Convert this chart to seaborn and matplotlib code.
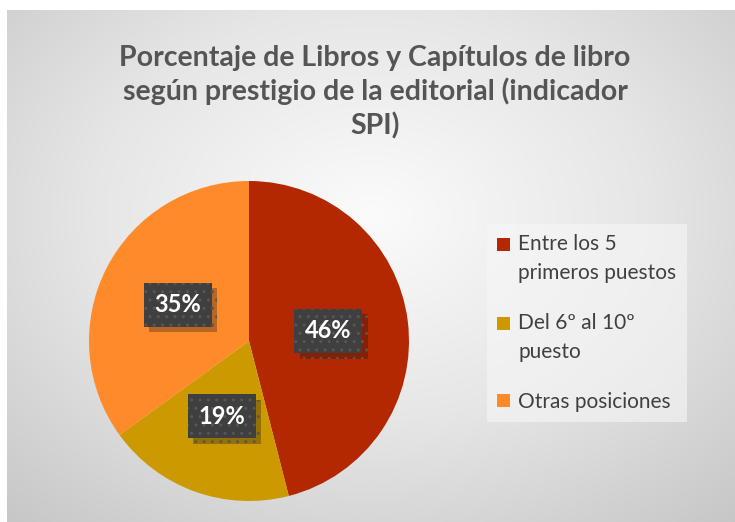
import numpy as np
import matplotlib
matplotlib.use("Agg")
import matplotlib.pyplot as plt
import matplotlib.patheffects as pe
from matplotlib.patches import Rectangle
from matplotlib.legend_handler import HandlerPatch
import seaborn as sns

# data
categorias = ["Entre los 5\nprimeros puestos", "Del 6º al 10º\npuesto", "Otras posiciones"]
porcentajes = [46, 19, 35]
colores = ["#B32800", "#CC9900", "#FF8A2A"]
titulo = "Porcentaje de Libros y Capítulos de libro\nsegún prestigio de la editorial (indicador\nSPI)"

sns.set_theme(style="white")
plt.rcParams['font.family'] = ['Lato', 'DejaVu Sans']

fig = plt.figure(figsize=(7.35, 5.22), dpi=100)
fig.patch.set_facecolor("white")

# fondo con degradado radial
bg = fig.add_axes([7 / 735, 0, 728 / 735, 512 / 522])
yy, xx = np.mgrid[-1:1:300j, -1:1:400j]
rr = np.sqrt((xx * 0.85) ** 2 + ((yy + 0.2) * 0.8) ** 2)
cmap = sns.blend_palette(["#fbfbfb", "#e6e6e6", "#c6c6c6"], as_cmap=True)
bg.imshow(rr, cmap=cmap, vmin=0.0, vmax=1.3, aspect="auto", extent=[0, 1, 0, 1])
bg.set_axis_off()

fig.text(375 / 735, 1 - 92 / 522, titulo, ha="center", va="center",
         fontsize=20.5, fontweight="bold", color="#555555", linespacing=1.3)

ax = fig.add_axes([89 / 735, 21 / 522, 320 / 735, 320 / 522])
wedges, _, autotexts = ax.pie(porcentajes, colors=colores, startangle=90, counterclock=False,
                              autopct="%1.0f%%", pctdistance=0.5,
                              wedgeprops=dict(linewidth=0),
                              textprops=dict(color="white", fontsize=17, fontweight="bold"))
for t in autotexts:
    t.set_bbox(dict(boxstyle="square,pad=0.45", fc="#3f3f3f", ec="#565656", hatch="..", lw=0))
    t.get_bbox_patch().set_path_effects([pe.SimplePatchShadow(offset=(4, -4), alpha=0.3), pe.Normal()])
ax.set_xlim(-1, 1)
ax.set_ylim(-1, 1)
ax.set_aspect("equal")


# marcador alineado con la primera línea del texto
def cuadro_arriba(n_lineas):
    def f(legend, orig_handle, xdescent, ydescent, width, height, fontsize):
        dy = (n_lineas - 1) * 10.5
        return Rectangle((-xdescent, -ydescent + dy), width, height)
    return HandlerPatch(patch_func=f)


mapa = {w: cuadro_arriba(c.count("\n") + 1) for w, c in zip(wedges, categorias)}
leg = fig.legend(wedges, categorias, loc="center left", bbox_to_anchor=(487 / 735, 1 - 323 / 522),
                 frameon=True, fontsize=15, handlelength=0.6, handleheight=0.6,
                 handletextpad=0.4, labelspacing=1.45, borderpad=0.5, borderaxespad=0,
                 fancybox=False, handler_map=mapa)
leg.get_frame().set_facecolor("#f7f7f7")
leg.get_frame().set_alpha(0.6)
leg.get_frame().set_edgecolor("none")
for t in leg.get_texts():
    t.set_color("#404040")
    t.set_linespacing(1.55)

fig.savefig("out.png", dpi=100)
